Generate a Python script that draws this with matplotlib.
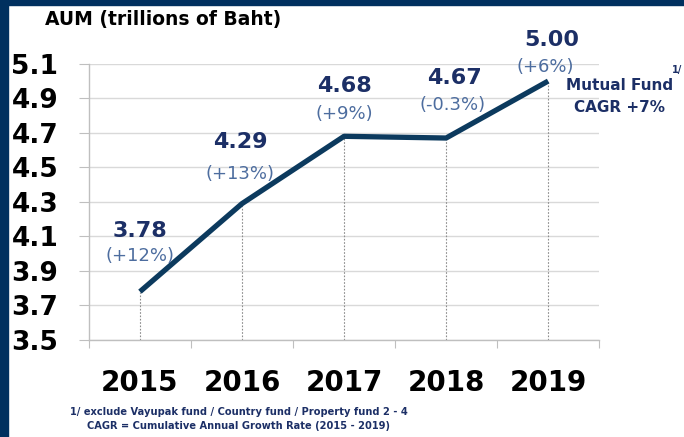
"""Mutual fund AUM 2015-2019 (trillions of Baht)."""

import numpy as np
import matplotlib
matplotlib.use("Agg")
from matplotlib import pyplot as plt
from matplotlib.patches import Rectangle


# =============================================================================
# Data
# =============================================================================
years = ['2015', '2016', '2017', '2018', '2019']
aum = [3.78, 4.29, 4.68, 4.67, 5.00]
growth = ['(+12%)', '(+13%)', '(+9%)', '(-0.3%)', '(+6%)']
yticks = [3.5, 3.7, 3.9, 4.1, 4.3, 4.5, 4.7, 4.9, 5.1]


# =============================================================================
# Plot parameters
# =============================================================================
matplotlib.rcParams['font.family'] = 'DejaVu Sans'
navy_frame = '#00305f'
line_color = '#0c3a5e'
value_color = '#1c2f66'
pct_color = '#4d6d9f'
grid_color = '#d9d9d9'
axis_color = '#bfbfbf'

# label lifts above each point (pixels): value label, growth label
value_lift = [61, 62, 50, 60, 41]
pct_lift = [36, 30, 22, 33, 14]
value_dx = [0, -2, 0, 8, 4]
pct_dx = [0, -2, 0, 6, -3]


# =============================================================================
# Plot
# =============================================================================
fig = plt.figure(figsize=(6.84, 4.37), dpi=100)
ax = fig.add_axes([0.130, 0.222, 0.746, 0.632])

x = np.arange(len(years))

# grid and drop lines
for yv in yticks:
    ax.axhline(yv, color=grid_color, linewidth=1, zorder=0)
for xi, v in zip(x, aum):
    ax.plot([xi, xi], [yticks[0], v], color='#8c8c8c', linestyle=(0, (1.5, 1.5)),
        linewidth=0.8, zorder=1)

ax.plot(x, aum, color=line_color, linewidth=3.8, solid_capstyle='butt', zorder=3)

for i in range(len(years)):
    ax.annotate(f'{aum[i]:.2f}', xy=(x[i], aum[i]),
        xytext=(value_dx[i], value_lift[i]), textcoords='offset pixels',
        ha='center', va='center', fontsize=16, fontweight='bold',
        color=value_color)
    ax.annotate(growth[i], xy=(x[i], aum[i]),
        xytext=(pct_dx[i], pct_lift[i]), textcoords='offset pixels',
        ha='center', va='center', fontsize=13, color=pct_color)

# axes
ax.set_xlim(-0.5, len(years) - 0.5)
ax.set_ylim(yticks[0], yticks[-1])
ax.set_yticks(yticks)
ax.set_yticklabels([f'{v:.1f}' for v in yticks])
ax.tick_params(axis='y', length=7, color=axis_color, pad=15, labelsize=19)
for lab in ax.get_yticklabels():
    lab.set_fontweight('bold')

ax.set_xticks(np.arange(-0.5, len(years)), minor=False)
ax.set_xticklabels([])
ax.set_xticks(x, minor=True)
ax.set_xticklabels(years, minor=True)
ax.tick_params(axis='x', which='major', length=6, color=axis_color)
ax.tick_params(axis='x', which='minor', length=0, pad=21, labelsize=20)
for lab in ax.get_xticklabels(minor=True):
    lab.set_fontweight('bold')

for side in ['top', 'right']:
    ax.spines[side].set_visible(False)
for side in ['left', 'bottom']:
    ax.spines[side].set_color(axis_color)
    ax.spines[side].set_linewidth(1)

# texts
fig.text(45/684, 1 - 20/437, 'AUM (trillions of Baht)', fontsize=13.5,
    fontweight='bold', ha='left', va='center', color='black')
fig.text(620/684, 1 - 85/437, 'Mutual Fund', fontsize=11, fontweight='bold',
    ha='center', va='center', color=value_color)
fig.text(620/684, 1 - 107/437, 'CAGR +7%', fontsize=11, fontweight='bold',
    ha='center', va='center', color=value_color)
fig.text(677/684, 1 - 70/437, '1/', fontsize=7, fontweight='bold',
    ha='center', va='center', color=value_color)
fig.text(70/684, 1 - 412/437,
    '1/ exclude Vayupak fund / Country fund / Property fund 2 - 4',
    fontsize=7.1, fontweight='bold', ha='left', va='center', color=value_color)
fig.text(87/684, 1 - 426/437,
    'CAGR = Cumulative Annual Growth Rate (2015 - 2019)',
    fontsize=7.1, fontweight='bold', ha='left', va='center', color=value_color)

# navy frame
fig.patches.append(Rectangle((0, 0), 8/684, 1, transform=fig.transFigure,
    color=navy_frame, zorder=0))
fig.patches.append(Rectangle((0, 1 - 5/437), 1, 5/437, transform=fig.transFigure,
    color=navy_frame, zorder=0))

fig.savefig('out.png', dpi=100)
plt.close()
